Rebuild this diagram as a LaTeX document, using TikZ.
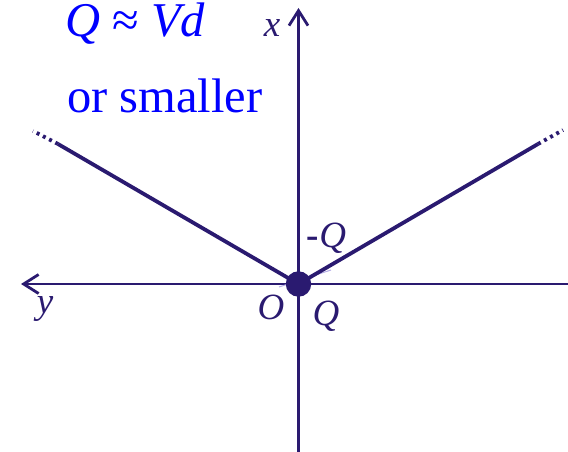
\documentclass[tikz,border=0pt]{standalone}
\usepackage{fontspec}
\setmainfont{Liberation Serif}
\usetikzlibrary{arrows.meta}
\definecolor{navy}{RGB}{42,26,112}
\definecolor{tblue}{RGB}{0,0,255}
\definecolor{faint}{RGB}{180,172,230}
\begin{document}
\begin{tikzpicture}[x=1pt,y=-1pt,
  axis/.style={navy,line width=2.8pt},
  slant/.style={navy,line width=3.8pt},
  dots/.style={navy,line width=3.8pt,dash pattern=on 3pt off 4pt},
  lbl/.style={navy,anchor=base,inner sep=0pt,font=\fontsize{37}{37}\selectfont\itshape},
  btxt/.style={tblue,anchor=base west,inner sep=0pt,font=\fontsize{48.5}{48.5}\selectfont},
  axtip/.tip={Straight Barb[length=15pt,width=19pt,line width=2.8pt]}]
\useasboundingbox (0,0) rectangle (568,452);
% coordinates
\coordinate (o) at (298.5,284);
\coordinate (xtop) at (298.5,8);
\coordinate (xbot) at (298.5,452);
\coordinate (yleft) at (21,284);
\coordinate (yright) at (568,284);
\coordinate (l1) at (58,144);
\coordinate (l2) at (33,131);
\coordinate (r1) at (538,144);
\coordinate (r2) at (563,130);
\coordinate (f1) at (279,287);
\coordinate (f2) at (331,270);
% axes
\draw[axis,-axtip] (xbot) -- (xtop);
\draw[axis,-axtip] (yright) -- (yleft);
% faint line
\draw[faint,line width=1pt] (f1) -- (f2);
% slanted lines
\draw[slant] (o) -- (l1);
\draw[dots] (l1) -- (l2);
\draw[slant] (o) -- (r1);
\draw[dots] (r1) -- (r2);
% dot
\node[circle,fill=navy,minimum size=25.5pt,inner sep=0pt] (dot) at (o) {};
% labels
\node[lbl] (lx) at (272,37) {x};
\node[lbl] (ly) at (45,313) {y};
\node[lbl] (lO) at (271,319) {O};
\node[lbl] (lQ) at (326,325) {Q};
\node[lbl] (lmQ) at (326.5,247) {{\upshape\bfseries -}Q};
% blue text
\node[btxt] (t1) at (65,37) {{\itshape Q} ≈ {\itshape Vd}};
\node[btxt] (t2) at (67,112) {or smaller};
\end{tikzpicture}
\end{document}
